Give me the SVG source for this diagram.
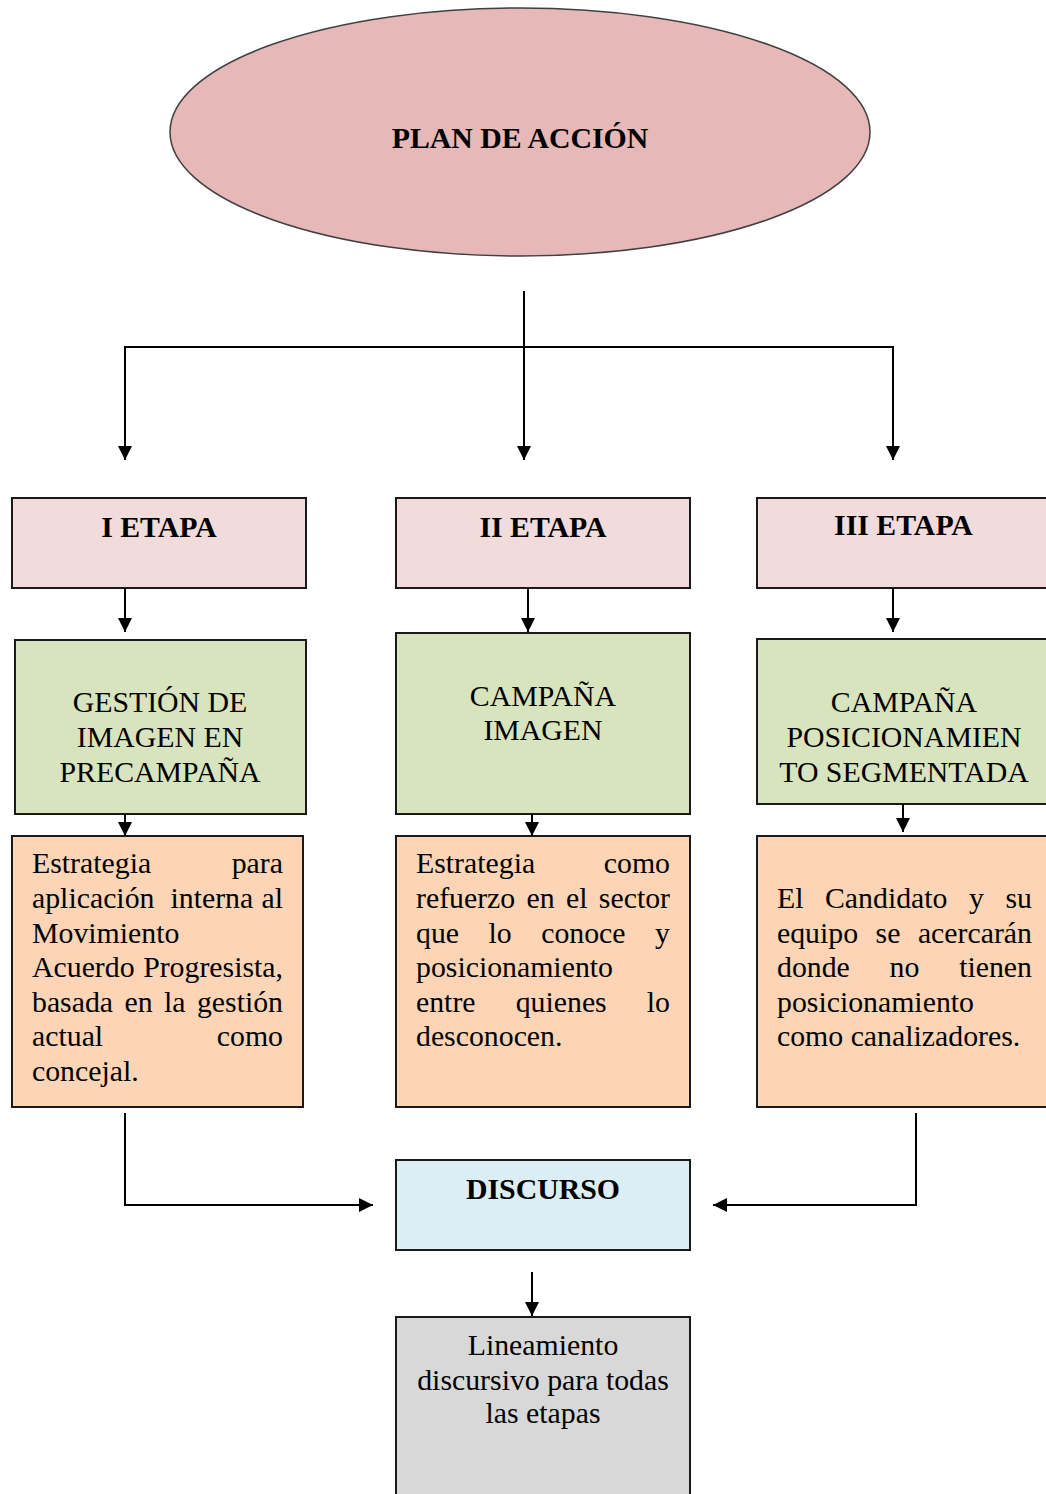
<svg xmlns="http://www.w3.org/2000/svg" width="1046" height="1494" viewBox="0 0 1046 1494">
<defs>
<marker id="arr" markerUnits="userSpaceOnUse" markerWidth="14" markerHeight="14" refX="14" refY="7" orient="auto">
<path d="M0,0 L14,7 L0,14 z" fill="#000"/>
</marker>
<style>
.t{font-family:"Liberation Serif","Times New Roman",serif;font-size:29.8px;fill:#000}
.b{font-weight:bold}
.c{text-anchor:middle}
.e{text-anchor:end}
.box{stroke:#1a1a1a;stroke-width:2}
.pink{fill:#f2dcdb}
.green{fill:#d7e4bd}
.orange{fill:#fbd5b5}
.blue{fill:#dbeef3}
.gray{fill:#d8d8d8}
.con{fill:none;stroke:#000;stroke-width:2}
</style>
</defs>
<rect width="1046" height="1494" fill="#fff"/>

<g id="plan">
<ellipse cx="520" cy="132" rx="350" ry="124" fill="#e6b8b7" stroke="#404040" stroke-width="1.5"/>
<text class="t b c" x="520" y="148">PLAN DE ACCIÓN</text>
</g>

<g id="etapa1">
<rect class="box pink" x="12" y="498" width="294" height="90"/>
<text class="t b c" x="159" y="537">I ETAPA</text>
</g>
<g id="etapa2">
<rect class="box pink" x="396" y="498" width="294" height="90"/>
<text class="t b c" x="543" y="537">II ETAPA</text>
</g>
<g id="etapa3">
<rect class="box pink" x="757" y="498" width="300" height="90"/>
<text class="t b c" x="903.5" y="535">III ETAPA</text>
</g>

<g id="gestion">
<rect class="box green" x="15" y="640" width="291" height="174"/>
<text class="t c" x="160" y="712">GESTIÓN DE</text>
<text class="t c" x="160" y="747">IMAGEN EN</text>
<text class="t c" x="160" y="782">PRECAMPAÑA</text>
</g>
<g id="campana-imagen">
<rect class="box green" x="396" y="633" width="294" height="181"/>
<text class="t c" x="543" y="706">CAMPAÑA</text>
<text class="t c" x="543" y="740">IMAGEN</text>
</g>
<g id="campana-pos">
<rect class="box green" x="757" y="639" width="300" height="165"/>
<text class="t c" x="904" y="712">CAMPAÑA</text>
<text class="t c" x="904" y="747">POSICIONAMIEN</text>
<text class="t c" x="904" y="782">TO SEGMENTADA</text>
</g>

<g id="estrategia1">
<rect class="box orange" x="12" y="836" width="291" height="271"/>
<text class="t" x="32" y="873">Estrategia</text><text class="t e" x="283" y="873">para</text>
<text class="t" x="32" y="908">aplicación</text><text class="t" x="170.5" y="908">interna</text><text class="t e" x="283" y="908">al</text>
<text class="t" x="32" y="943">Movimiento</text>
<text class="t" x="32" y="977">Acuerdo</text><text class="t e" x="283" y="977">Progresista,</text>
<text class="t" x="32" y="1012">basada</text><text class="t" x="124.5" y="1012">en</text><text class="t" x="164" y="1012">la</text><text class="t e" x="283" y="1012">gestión</text>
<text class="t" x="32" y="1046">actual</text><text class="t e" x="283" y="1046">como</text>
<text class="t" x="32" y="1081">concejal.</text>
</g>

<g id="estrategia2">
<rect class="box orange" x="396" y="836" width="294" height="271"/>
<text class="t" x="416" y="873">Estrategia</text><text class="t e" x="670" y="873">como</text>
<text class="t" x="416" y="908">refuerzo</text><text class="t" x="526.6" y="908">en</text><text class="t" x="566" y="908">el</text><text class="t e" x="670" y="908">sector</text>
<text class="t" x="416" y="943">que</text><text class="t" x="488.5" y="943">lo</text><text class="t" x="541.2" y="943">conoce</text><text class="t e" x="670" y="943">y</text>
<text class="t" x="416" y="977">posicionamiento</text>
<text class="t" x="416" y="1012">entre</text><text class="t" x="515.7" y="1012">quienes</text><text class="t e" x="670" y="1012">lo</text>
<text class="t" x="416" y="1046">desconocen.</text>
</g>

<g id="estrategia3">
<rect class="box orange" x="757" y="836" width="300" height="271"/>
<text class="t" x="777" y="908">El</text><text class="t" x="825" y="908">Candidato</text><text class="t" x="969" y="908">y</text><text class="t e" x="1032" y="908">su</text>
<text class="t" x="777" y="943">equipo</text><text class="t" x="875.6" y="943">se</text><text class="t e" x="1032" y="943">acercarán</text>
<text class="t" x="777" y="977">donde</text><text class="t" x="889.6" y="977">no</text><text class="t e" x="1032" y="977">tienen</text>
<text class="t" x="777" y="1012">posicionamiento</text>
<text class="t" x="777" y="1046">como canalizadores.</text>
</g>

<g id="discurso">
<rect class="box blue" x="396" y="1160" width="294" height="90"/>
<text class="t b c" x="543" y="1199">DISCURSO</text>
</g>

<g id="lineamiento">
<rect class="box gray" x="396" y="1317" width="294" height="190"/>
<text class="t c" x="543" y="1355">Lineamiento</text>
<text class="t c" x="543" y="1390">discursivo para todas</text>
<text class="t c" x="543" y="1423">las etapas</text>
</g>

<g id="connectors">
<path class="con" d="M524,291 V460" marker-end="url(#arr)"/>
<path class="con" d="M125,347 H893"/>
<path class="con" d="M125,346 V460" marker-end="url(#arr)"/>
<path class="con" d="M893,346 V460" marker-end="url(#arr)"/>
<path class="con" d="M125,588 V632" marker-end="url(#arr)"/>
<path class="con" d="M528,588 V632" marker-end="url(#arr)"/>
<path class="con" d="M893,588 V632" marker-end="url(#arr)"/>
<path class="con" d="M125,814 V836" marker-end="url(#arr)"/>
<path class="con" d="M532,814 V836" marker-end="url(#arr)"/>
<path class="con" d="M903,804 V832" marker-end="url(#arr)"/>
<path class="con" d="M125,1113 V1205 H373" marker-end="url(#arr)"/>
<path class="con" d="M916,1113 V1205 H713" marker-end="url(#arr)"/>
<path class="con" d="M532,1272 V1316" marker-end="url(#arr)"/>
</g>
</svg>
